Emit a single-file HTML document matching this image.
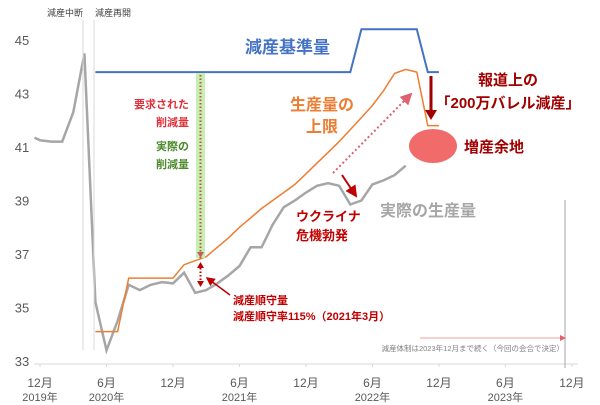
<!DOCTYPE html>
<html><head><meta charset="utf-8"><style>
html,body{margin:0;padding:0;background:#fff;}
svg{display:block;font-family:"Liberation Sans","Noto Sans CJK JP",sans-serif;}
</style></head><body>
<svg id="chart" width="600" height="405" viewBox="0 0 600 405">
<defs>
<marker id="ar" markerWidth="6" markerHeight="6" refX="5" refY="3" orient="auto"><path d="M0,0 L6,3 L0,6 z" fill="#c00000"/></marker>
<marker id="arp" markerWidth="6" markerHeight="6" refX="5" refY="3" orient="auto"><path d="M0,0 L6,3 L0,6 z" fill="#e06070"/></marker>
</defs>
<g id="grid"></g>
<g id="series"></g>
<g id="ann"></g>
</svg>
<script>
const yTicks=[33,35,37,39,41,43,45];
const xTickMonths=[0,6,12,18,24,30,36,42,48];
const xTickLabels=["12月","6月","12月","6月","12月","6月","12月","6月","12月"];
const yearLabels=["2019年","2020年","","2021年","","2022年","","2023年",""];
const actualMonths=[-0.5,0,1,2,3,4,5,6,7,8,9,10,11,12,13,14,15,16,17,18,19,20,21,22,23,24,25,26,27,28,29,30,31,32,33];
const actualValues=[41.35,41.25,41.2,41.2,42.3,44.5,35.2,33.4,34.5,35.85,35.65,35.85,35.95,35.9,36.3,35.55,35.65,35.9,36.2,36.55,37.25,37.25,38.1,38.75,39.0,39.3,39.55,39.65,39.55,38.85,39.0,39.6,39.75,39.95,40.3];
const limitMonths=[5,7,8,12,13,14,15,16,17,18,19,20,21,22,23,24,25,26,27,28,29,30,31,32,33,34,35,36];
const limitValues=[34.1,34.1,36.1,36.1,36.6,36.75,36.9,37.25,37.6,38.0,38.35,38.7,39.0,39.3,39.6,40.0,40.4,40.8,41.2,41.65,42.1,42.55,43.1,43.75,43.9,43.8,41.8,41.8];
const baseMonths=[5,28,29,34,35,36];
const baseValues=[43.8,43.8,45.4,45.4,43.8,43.8];
const NS="http://www.w3.org/2000/svg";
function x(m){return 40+(m+0.5)*11.08-5.5;}
function y(v){return 361-(v-33)*26.75;}
function mk(tag,attrs,parent){const e=document.createElementNS(NS,tag);for(const k in attrs)e.setAttribute(k,attrs[k]);document.getElementById(parent).appendChild(e);return e;}
// axes
const ax=mk('line',{x1:34,y1:364,x2:578,y2:364,stroke:'#d9d9d9','stroke-width':1},'grid');


yTicks.forEach(v=>{const t=mk('text',{x:22,y:y(v)+5,'font-size':13,fill:'#595959','text-anchor':'middle'},'grid');t.textContent=v;

});
xTickMonths.forEach((m,i)=>{const xx=x(m);
mk('line',{x1:xx,y1:364,x2:xx,y2:367,stroke:'#d9d9d9'},'grid');
const t=mk('text',{x:xx,y:387,'font-size':12,fill:'#595959','text-anchor':'middle'},'grid');t.textContent=xTickLabels[i];


if(yearLabels[i]){const t2=mk('text',{x:xx,y:401,'font-size':11,fill:'#595959','text-anchor':'middle'},'grid');t2.textContent=yearLabels[i];

}
});
function pts(ms,vs){return ms.map((m,i)=>x(m).toFixed(1)+','+y(vs[i]).toFixed(1)).join(' ');}
const g1=mk('polyline',{points:pts(actualMonths,actualValues),fill:'none',stroke:'#a6a6a6','stroke-width':2.5},'series');


const g2=mk('polyline',{points:pts(limitMonths,limitValues),fill:'none',stroke:'#ed7d31','stroke-width':1.5},'series');


const g3=mk('polyline',{points:pts(baseMonths,baseValues),fill:'none',stroke:'#4472c4','stroke-width':2},'series');


</script>
<script>
const A=document.getElementById('ann');
A.innerHTML=`
<line x1="83" y1="20" x2="83" y2="350" stroke="#d9d9d9"/>
<line x1="94" y1="20" x2="94" y2="350" stroke="#d9d9d9"/>
<text x="65" y="16" font-size="9" fill="#404040" text-anchor="middle">減産中断</text>
<text x="113" y="16" font-size="9" fill="#404040" text-anchor="middle">減産再開</text>
<line x1="565" y1="200" x2="565" y2="368" stroke="#a6a6a6"/>
<rect x="196" y="73" width="9" height="185" fill="#c6efb0"/>
<line x1="200.5" y1="75" x2="200.5" y2="258" stroke="#c0504d" stroke-width="2" stroke-dasharray="1.5,2"/>
<path d="M197,252 L204,252 L200.5,258 z" fill="#c06060"/>
<path d="M197,268 L204,268 L200.5,262 z" fill="#c00000"/>
<line x1="200.5" y1="268" x2="200.5" y2="282" stroke="#c00000" stroke-width="2" stroke-dasharray="1.5,2"/>
<path d="M197,281 L204,281 L200.5,287 z" fill="#c00000"/>
<text font-size="11" font-weight="bold" fill="#e0303a" text-anchor="end"><tspan x="189" y="108">要求された</tspan><tspan x="189" y="126">削減量</tspan></text>
<text font-size="11" font-weight="bold" fill="#4a8a2a" text-anchor="end"><tspan x="189" y="150">実際の</tspan><tspan x="189" y="168">削減量</tspan></text>
<line x1="230" y1="295" x2="207" y2="278" stroke="#c00000" stroke-width="1.5" marker-end="url(#ar)"/>
<text font-size="11" font-weight="bold" fill="#c00000"><tspan x="233" y="304">減産順守量</tspan><tspan x="233" y="320">減産順守率115%（2021年3月）</tspan></text>
<text x="245" y="53" font-size="17" font-weight="bold" fill="#4472c4">減産基準量</text>
<text font-size="16" font-weight="bold" fill="#ed7d31"><tspan x="290" y="110">生産量の</tspan><tspan x="306" y="132">上限</tspan></text>
<text x="380" y="216" font-size="16" font-weight="bold" fill="#a6a6a6">実際の生産量</text>
<text font-size="13" font-weight="bold" fill="#c00000"><tspan x="296" y="221">ウクライナ</tspan><tspan x="296" y="240">危機勃発</tspan></text>
<line x1="342" y1="175" x2="356" y2="196" stroke="#c00000" stroke-width="2" marker-end="url(#ar)"/>
<line x1="333" y1="173" x2="411" y2="94" stroke="#e06070" stroke-width="2" stroke-dasharray="2,2.5" marker-end="url(#arp)"/>
<line x1="431" y1="76" x2="431" y2="112" stroke="#a00000" stroke-width="3"/>
<path d="M425,110 L437,110 L431,120 z" fill="#a00000"/>
<text font-size="15" font-weight="bold" fill="#a00000" text-anchor="middle"><tspan x="508" y="85">報道上の</tspan><tspan x="508" y="108">「200万バレル減産」</tspan></text>
<ellipse cx="433" cy="146" rx="24" ry="17" fill="#f26b6b"/>
<text x="464" y="152" font-size="15" font-weight="bold" fill="#a00000">増産余地</text>
<line x1="420" y1="338" x2="562" y2="338" stroke="#f0a0a0"/>
<path d="M560,335 L566,338 L560,341 z" fill="#e06070"/>
<text x="564" y="351" font-size="7.5" fill="#808080" text-anchor="end">減産体制は2023年12月まで続く（今回の会合で決定）</text>
`;
</script>
</body></html>
